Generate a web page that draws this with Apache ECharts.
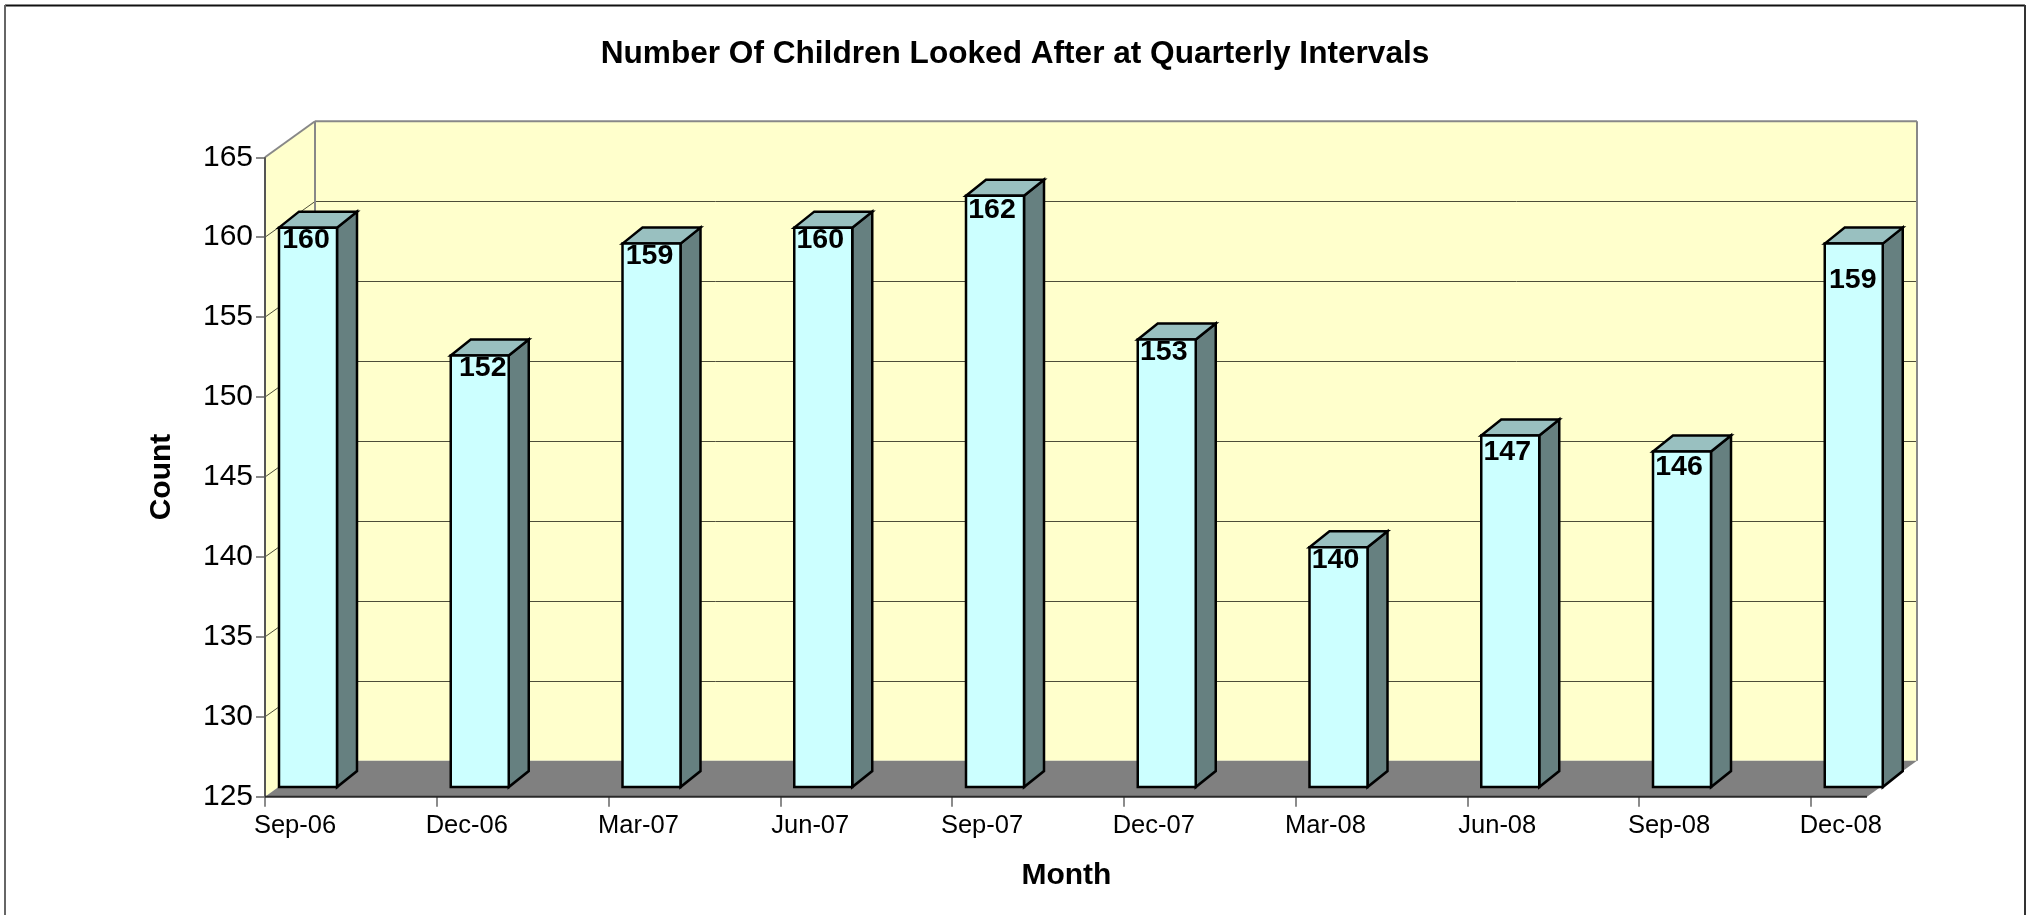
<!DOCTYPE html>
<html><head><meta charset="utf-8">
<style>html,body{margin:0;padding:0;background:#fff}#c{width:2028px;height:915px}</style>
<script src="https://cdn.jsdelivr.net/npm/echarts@6/dist/echarts.min.js"></script>
</head><body><div id="c"></div>
<script>
const categories = ['Sep-06','Dec-06','Mar-07','Jun-07','Sep-07','Dec-07','Mar-08','Jun-08','Sep-08','Dec-08'];
const counts = [160,152,159,160,162,153,140,147,146,159];
const yTicks = [130,135,140,145,150,155,160];

const FONT = '"Liberation Sans", Arial, sans-serif';
const WALL = [50,-36], GAP = [14,-9.6], BAR_W = 58, BAR_D = [20,-16], FLOOR_END = 1602;
// small hand placement of each bar's value label, as in the original
const LABEL_NUDGE_X = [-2,3,-2,-3,-3,-3,-3,-3,-3,-1];
const LABEL_NUDGE_Y = [13,13,13,13,14,13,13,17,16,37];

function poly(points, fill, stroke, lw){
  return {type:'polygon', shape:{points}, style:{fill:fill, stroke:stroke||null, lineWidth:lw||0, lineJoin:'miter'}};
}
function line(a,b,color,w){
  return {type:'line', shape:{x1:a[0],y1:a[1],x2:b[0],y2:b[1]}, style:{stroke:color,lineWidth:w}};
}
function renderRoom(params, api){
  const x0 = api.coord([0,125])[0], yb = api.coord([0,125])[1], yt = api.coord([0,165])[1];
  const xr = x0 + FLOOR_END;
  const [dx,dy] = WALL;
  const ch = [];
  ch.push(poly([[x0,yb],[x0+dx,yb+dy],[x0+dx,yt+dy],[x0,yt]],'#FFFFCC'));
  ch.push(poly([[x0+dx,yb+dy],[xr+dx,yb+dy],[xr+dx,yt+dy],[x0+dx,yt+dy]],'#FFFFCC'));
  yTicks.forEach(t=>{
    const y = api.coord([0,t])[1];
    const yBack = Math.round(y+dy)+0.5;
    ch.push(line([x0,y],[x0+dx,yBack],'#4d4d38',1));
    ch.push(line([x0+dx,yBack],[xr+dx,yBack],'#4d4d38',1));
  });
  ch.push(poly([[x0,yb],[xr,yb],[xr+dx,yb+dy],[x0+dx,yb+dy]],'#808080'));
  ch.push(line([x0,yt],[x0+dx,yt+dy],'#888888',2));
  ch.push(line([x0+dx,yt+dy],[xr+dx,yt+dy],'#888888',2));
  ch.push(line([x0+dx,yt+dy],[x0+dx,yb+dy],'#888888',2));
  ch.push(line([xr+dx,yt+dy],[xr+dx,yb+dy],'#888888',2));
  ch.push(line([x0,yt],[x0,yb],'#555555',2));
  ch.push(line([x0,yb],[xr,yb],'#2a2a2a',2));
  return {type:'group', children:ch};
}
function renderBar(params, api){
  const i = api.value(0), v = api.value(1);
  const top = api.coord([i,v]), base = api.coord([i,125]);
  const l = top[0]+GAP[0], r = l+BAR_W, t = top[1]+GAP[1], b = base[1]+GAP[1];
  const [dx,dy] = BAR_D;
  return {type:'group', children:[
    poly([[r,t],[r+dx,t+dy],[r+dx,b+dy],[r,b]],'#668080','#000',2.5),
    poly([[l,t],[l+dx,t+dy],[r+dx,t+dy],[r,t]],'#99C0C0','#000',2.5),
    poly([[l,t],[r,t],[r,b],[l,b]],'#CCFFFF','#000',2.5),
    {type:'text', style:{text:String(v), x:(l+r)/2+LABEL_NUDGE_X[i], y:t+LABEL_NUDGE_Y[i], align:'center', verticalAlign:'middle',
      fill:'#000', font:'bold 28.5px '+FONT}}
  ]};
}
const chart = echarts.init(document.getElementById('c'), null, {renderer:'canvas'});
chart.setOption({
  animation:false,
  backgroundColor:'#fff',
  title:{text:'Number Of Children Looked After at Quarterly Intervals', left:1010, top:33, textAlign:'center',
    textStyle:{fontFamily:FONT,fontWeight:'bold',fontSize:31.6,color:'#000'}},
  graphic:[
    {type:'line', z:-10, shape:{x1:5,y1:5.5,x2:2025,y2:5.5}, style:{stroke:'#111',lineWidth:2}},
    {type:'line', z:-10, shape:{x1:5,y1:5,x2:5,y2:915}, style:{stroke:'#666',lineWidth:2}},
    {type:'line', z:-10, shape:{x1:2025,y1:5,x2:2025,y2:915}, style:{stroke:'#333',lineWidth:2}}
  ],
  grid:{left:265, top:157.3, width:1545.75, height:639.4, containLabel:false},
  xAxis:{type:'category', data:categories, boundaryGap:false, name:'Month', nameLocation:'middle', nameGap:64,
    nameTextStyle:{fontFamily:FONT,fontWeight:'bold',fontSize:30,color:'#000',padding:[0,0,0,57]},
    axisLine:{show:false},
    axisTick:{show:true,length:10,lineStyle:{color:'#666',width:1.5}},
    axisLabel:{interval:0,fontFamily:FONT,fontSize:25.5,color:'#000',margin:16,padding:[0,0,0,60],hideOverlap:false},
    splitLine:{show:false}},
  yAxis:{type:'value', min:125, max:165, interval:5, name:'Count', nameLocation:'middle', nameGap:88, nameRotate:90,
    nameTextStyle:{fontFamily:FONT,fontWeight:'bold',fontSize:30,color:'#000'},
    axisLine:{show:false},
    axisTick:{show:true,length:9,lineStyle:{color:'#666',width:1.5}},
    axisLabel:{fontFamily:FONT,fontSize:30,color:'#000',margin:12,padding:[4,0,0,0]},
    splitLine:{show:false}},
  series:[
    {type:'custom', name:'room', z:1, silent:true, clip:false, renderItem:renderRoom, data:[[0,125]], encode:{x:0,y:1}},
    {type:'custom', name:'Count', z:2, clip:false, renderItem:renderBar,
      data:counts.map((v,i)=>[i,v]), encode:{x:0,y:1}}
  ]
});
</script></body></html>
